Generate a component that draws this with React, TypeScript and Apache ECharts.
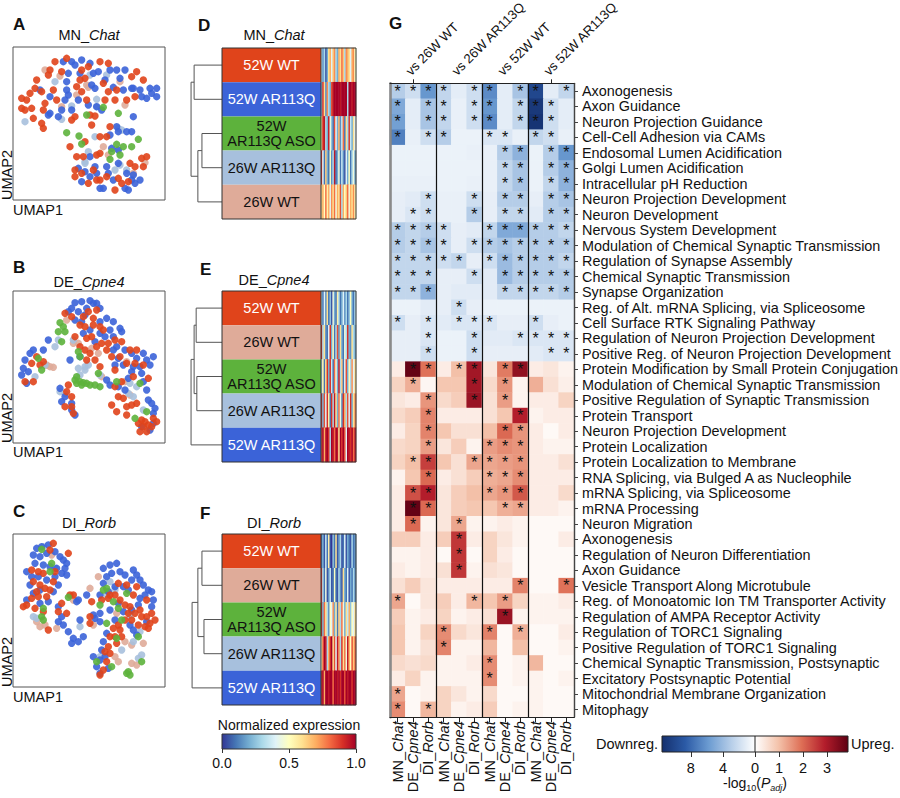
import React, { useEffect, useRef } from "react";
import * as echarts from "echarts";

const FONT = '"Liberation Sans", Arial, Helvetica, sans-serif';
const INK = "#111111";

// ---------------- groups ----------------
const groupNames = ["52W WT", "52W AR113Q", "52W AR113Q ASO", "26W AR113Q", "26W WT"];
const groupColors = ["#e0441b", "#3b63d8", "#5db23c", "#a7c0dd", "#dfab99"];
const groupTextColors = ["#ffffff", "#ffffff", INK, INK, INK];

// ---------------- UMAP points (UMAP1, UMAP2 in picture units, UMAP2 grows downward) ----------------
const umapA_52WT = [[165,185],[200,175],[150,210],[185,215],[245,210],[255,235],[300,185],[110,240],[105,265],[125,275],[65,295],[80,300],[75,330],[95,325],[65,325],[100,355],[125,370],[130,385],[160,270],[170,300],[135,310],[215,360],[225,350],[240,240],[245,275],[270,345],[285,348],[275,375],[315,300],[325,275],[350,270],[380,300],[410,215],[430,240],[405,290],[330,380],[320,410],[290,465],[300,460],[225,510],[245,520],[265,550],[225,530],[300,540],[320,530],[345,570],[355,535],[390,490],[385,545],[425,475],[430,500],[210,440],[250,470],[260,300],[310,250],[365,550],[290,540],[130,330],[90,280],[145,225],[230,260],[265,200],[325,190],[395,230],[300,410],[345,300],[255,425],[230,470],[440,470],[405,500],[280,510]];
const umapA_52AR = [[190,185],[215,185],[245,180],[270,190],[205,220],[240,220],[200,245],[200,270],[205,285],[195,300],[185,330],[150,340],[145,345],[120,270],[150,290],[280,220],[295,215],[330,210],[350,210],[375,210],[275,255],[285,265],[315,240],[340,262],[370,270],[395,265],[400,265],[425,290],[440,295],[450,265],[470,265],[470,290],[265,315],[290,320],[305,330],[350,380],[395,395],[400,350],[330,405],[235,505],[255,515],[245,545],[285,500],[290,520],[320,500],[325,520],[310,565],[355,490],[380,520],[395,540],[405,550],[375,565],[385,570],[420,540],[300,565],[355,450],[335,445],[270,470],[355,395],[235,300],[175,350],[225,195],[360,235],[420,270],[455,280],[380,395],[270,530],[340,540],[400,525],[215,330]];
const umapA_ASO = [[310,322],[355,340],[260,345],[200,398],[237,408],[245,432],[350,433],[370,440],[395,440],[415,418],[335,455],[330,478],[360,465]];
const umapA_26AR = [[75,365],[165,245],[215,318],[290,298],[290,320],[320,225],[355,385],[365,390],[285,410],[265,455],[255,485],[345,510],[380,510],[360,495],[185,358],[270,225],[255,490]];
const umapA_26WT = [[135,210],[180,228],[260,255],[230,285],[185,320],[265,262],[360,245],[375,315],[310,440],[325,465],[400,520],[435,488]];

const umapB_52WT = [[195,190],[215,200],[265,185],[290,180],[240,225],[255,230],[280,225],[300,230],[310,240],[260,265],[275,260],[290,290],[305,280],[240,290],[255,300],[270,310],[325,280],[345,270],[365,275],[390,300],[405,340],[430,345],[445,385],[400,380],[380,340],[365,395],[345,410],[355,440],[370,445],[335,465],[350,485],[380,495],[410,460],[415,520],[425,510],[435,515],[445,525],[420,545],[440,545],[460,505],[470,515],[110,320],[95,340],[120,345],[75,395],[100,395],[205,405],[200,425],[195,470],[215,470],[220,490],[345,360],[300,350],[260,330],[335,320],[285,330],[380,470],[395,465],[130,335],[225,260],[250,200],[280,205],[320,300],[360,320],[410,300],[430,530],[455,530],[215,440]];
const umapB_52AR = [[225,158],[245,155],[270,152],[290,160],[215,175],[205,185],[235,185],[260,175],[300,175],[225,210],[245,215],[300,215],[320,205],[340,215],[360,235],[365,245],[340,260],[270,240],[250,250],[300,250],[315,260],[285,275],[350,290],[340,300],[375,300],[395,310],[410,325],[430,310],[440,330],[460,320],[450,345],[425,370],[395,365],[370,345],[345,345],[330,405],[355,410],[375,420],[430,395],[440,420],[445,450],[455,460],[465,475],[450,540],[425,530],[460,520],[100,300],[90,310],[75,330],[70,355],[65,375],[80,400],[145,270],[195,440],[180,415],[215,460],[225,495],[210,330],[240,320],[185,455],[215,480],[130,300],[355,325],[385,385],[420,350],[320,390],[280,160],[255,195],[330,240],[400,350],[460,490],[85,365]];
const umapB_ASO = [[180,218],[190,230],[175,245],[195,245],[185,275],[235,305],[240,320],[115,325],[125,360],[225,390],[240,395],[250,398],[230,400],[245,405],[260,400],[270,405],[300,410],[285,405],[295,370],[350,395],[420,400],[440,485],[405,505],[230,380]];
const umapB_26AR = [[175,270],[220,270],[165,290],[235,355],[255,350],[265,345],[255,360],[240,375],[300,375],[180,425],[195,430],[385,430],[400,440],[430,480],[410,410],[105,380],[135,345],[390,400]];
const umapB_26WT = [[200,210],[220,280],[235,280],[140,345],[150,350],[160,352],[135,345],[275,295],[295,310],[380,335],[375,395],[390,435],[305,380]];

const umapC_52WT = [[160,100],[150,120],[205,130],[95,180],[115,185],[130,190],[165,185],[100,215],[120,225],[135,235],[150,240],[115,260],[140,260],[95,265],[70,290],[80,285],[105,295],[130,305],[185,280],[210,255],[220,255],[275,275],[270,320],[270,340],[305,270],[325,265],[330,255],[345,255],[360,270],[375,285],[390,290],[400,255],[420,300],[425,320],[440,320],[455,310],[465,330],[435,350],[445,355],[415,345],[395,330],[375,330],[355,345],[340,355],[330,380],[345,380],[365,380],[350,400],[325,410],[315,425],[330,430],[300,495],[310,480],[355,220],[380,225],[200,310],[145,360],[175,305],[440,270],[410,230],[160,215],[110,245],[385,310],[405,310],[450,340],[360,360],[320,455]];
const umapC_52AR = [[110,115],[125,110],[145,105],[100,135],[120,140],[140,130],[165,125],[180,140],[190,150],[195,175],[200,195],[105,160],[130,165],[150,170],[170,175],[185,190],[80,185],[95,200],[115,200],[140,210],[165,200],[175,225],[160,245],[100,250],[80,270],[120,280],[145,275],[175,290],[185,320],[175,335],[190,345],[205,365],[220,385],[235,395],[215,400],[250,380],[235,270],[230,275],[260,255],[300,310],[285,325],[310,175],[330,165],[350,160],[335,190],[360,185],[375,195],[400,180],[420,210],[430,225],[445,240],[455,245],[455,290],[460,270],[310,220],[300,255],[330,300],[345,330],[370,305],[395,300],[390,345],[420,265],[415,285],[320,370],[310,395],[305,420],[300,450],[315,440],[325,475],[300,490],[280,440],[290,470],[410,375],[400,360],[440,335],[370,230],[385,240],[395,210],[345,230],[325,245],[355,280],[280,315],[300,335],[240,330],[320,200],[410,195],[435,255],[90,225],[120,240],[200,160]];
const umapC_ASO = [[125,118],[155,160],[150,185],[130,295],[125,320],[130,330],[205,262],[310,240],[320,235],[340,275],[355,295],[380,250],[365,330],[350,385],[415,380],[290,455],[335,470],[380,490],[390,495],[385,485],[425,455],[300,285],[320,340]];
const umapC_26AR = [[130,110],[165,175],[100,320],[110,325],[240,350],[330,215],[320,255],[345,240],[390,315],[420,365],[400,395],[425,435],[300,440],[365,420],[415,445]];
const umapC_26WT = [[155,135],[220,270],[270,235],[295,200],[135,345],[120,350],[110,335],[170,355],[350,310],[375,395],[395,405],[395,460],[410,465],[355,455],[345,440],[430,400],[280,345]];

// ---------------- D/E/F block orders and dendrograms ----------------
const orderD = [0, 1, 2, 3, 4];
const orderE = [0, 4, 2, 3, 1];
const orderF = [0, 4, 2, 3, 1];
// merges: [height, yFrom, yTo, heightFrom, heightTo]
const dendroD = [[0.82, 0, 1, 0, 0], [0.59, 2, 3, 0, 0], [0.71, 2.5, 4, 0.59, 0], [0.91, 0.5, 3.25, 0.82, 0.71]];
const dendroE = [[0.76, 0, 1, 0, 0], [0.74, 2, 3, 0, 0], [0.82, 0.5, 2.5, 0.76, 0.74], [0.91, 1.5, 4, 0.82, 0]];
const dendroF = [[0.59, 0, 1, 0, 0], [0.53, 2, 3, 0, 0], [0.71, 0.5, 2.5, 0.59, 0.53], [0.88, 1.5, 4, 0.71, 0]];

// normalized expression strips (rows in block order)
const stripD = [
  [0.35,0.15,0.3,0.05,0.2,0.6,0.7,0.4,0.65,0.75,0.3,0.2,0.7,0.6,0.8,0.65,0.3,0.75,0.7,0.6,0.4,0.7,0.75,0.5],
  [0.25,0.9,0.6,0.15,0.75,0.3,0.2,0.85,0.95,1,1,1,1,0.95,1,1,1,1,0.3,1,1,0.95,1,1],
  [0.55,0.9,0.95,0.3,0.2,0.95,0.45,0.25,0.1,0.85,0.4,0.2,0.7,0.15,0.35,0.8,0.1,0.6,0.3,0.9,0.35,0.2,0.6,0.4],
  [0.9,0.4,0.1,0.65,0.2,0.1,0.5,0.15,0.3,0.95,0.1,0.2,0.45,0.1,0.35,0.15,0.05,0.4,0.2,0.5,0.1,0.3,0.45,0.2],
  [0.6,0.7,0.5,0.8,0.55,0.7,0.4,0.75,0.6,0.8,0.45,0.7,0.6,0.85,0.3,0.7,0.5,0.65,0.8,0.45,0.7,0.6,0.75,0.55],
];
const stripE = [
  [0.3,0.1,0.4,0.15,0.6,0.1,0.25,0.05,0.45,0.2,0.1,0.55,0.3,0.1,0.2,0.4,0.15,0.3,0.1,0.25,0.5,0.2,0.1,0.3],
  [0.9,0.3,0.6,0.15,0.1,0.4,0.9,0.2,0.5,0.1,0.3,0.85,0.15,0.6,0.2,0.1,0.45,0.3,0.9,0.2,0.15,0.6,0.3,0.2],
  [0.3,0.55,0.1,0.6,0.9,0.2,0.9,0.35,0.1,0.8,0.45,0.2,0.95,0.3,0.65,0.1,0.4,0.85,0.2,0.5,0.3,0.75,0.4,0.6],
  [0.9,0.2,0.85,0.4,0.9,0.55,0.1,0.9,0.3,0.95,0.6,0.2,0.8,0.45,0.15,0.9,0.7,0.3,0.85,0.4,0.9,0.2,0.6,0.75],
  [0.85,1,0.7,0.95,1,0.9,0.3,1,0.95,0.8,1,0.95,0.6,1,0.9,1,0.85,0.4,1,0.95,0.9,1,0.8,0.95],
];
const stripF = [
  [0.1,0.2,0.05,0.35,0.1,0.55,0.05,0,0.25,0.1,0.6,0.05,0.15,0.3,0.05,0.1,0.4,0.05,0.2,0.1,0.05,0.3,0.1,0.15],
  [0.9,0.3,0.1,0.45,0.05,0.15,0.35,0.05,0.1,0.5,0.1,0.05,0.3,0.15,0.05,0.6,0.2,0.1,0.4,0.05,0.2,0.1,0.3,0.15],
  [0.9,0.2,0.8,0.6,0.3,0.15,0.5,0.4,0.75,0.2,0.55,0.1,0.65,0.3,0.8,0.45,0.2,0.6,0.35,0.7,0.25,0.5,0.4,0.6],
  [0.5,0.8,1,0.95,0.3,0.7,0.9,1,0.6,0.85,0.4,0.95,0.75,0.3,0.9,0.6,0.8,0.45,0.95,0.7,0.5,0.85,0.65,0.8],
  [0.9,1,0.7,1,1,0.95,1,1,0.8,1,1,0.95,1,0.9,1,1,0.85,1,0.95,1,1,0.9,1,1],
];
const normTicks = [0, 0.5, 1];

// ---------------- G heatmap ----------------
const cellTypes = [["MN_", "Chat"], ["DE_", "Cpne4"], ["DI_", "Rorb"]];
const comparisons = ["vs 26W WT", "vs 26W AR113Q", "vs 52W WT", "vs 52W AR113Q"];
const downPathways = [
  "Axonogenesis", "Axon Guidance", "Neuron Projection Guidance", "Cell-Cell Adhesion via CAMs",
  "Endosomal Lumen Acidification", "Golgi Lumen Acidification", "Intracellular pH Reduction",
  "Neuron Projection Development", "Neuron Development", "Nervous System Development",
  "Modulation of Chemical Synaptic Transmission", "Regulation of Synapse Assembly",
  "Chemical Synaptic Transmission", "Synapse Organization", "Reg. of Alt. mRNA Splicing, via Spliceosome",
  "Cell Surface RTK Signaling Pathway", "Regulation of Neuron Projection Development",
  "Positive Reg. of Neuron Projection Development",
];
const upPathways = [
  "Protein Modification by Small Protein Conjugation", "Modulation of Chemical Synaptic Transmission",
  "Positive Regulation of Synaptic Transmission", "Protein Transport", "Neuron Projection Development",
  "Protein Localization", "Protein Localization to Membrane", "RNA Splicing, via Bulged A as Nucleophile",
  "mRNA Splicing, via Spliceosome", "mRNA Processing", "Neuron Migration", "Axonogenesis",
  "Regulation of Neuron Differentiation", "Axon Guidance", "Vesicle Transport Along Microtubule",
  "Reg. of Monoatomic Ion TM Transporter Activity", "Regulation of AMPA Receptor Activity",
  "Regulation of TORC1 Signaling", "Positive Regulation of TORC1 Signaling",
  "Chemical Synaptic Transmission, Postsynaptic", "Excitatory Postsynaptic Potential",
  "Mitochondrial Membrane Organization", "Mitophagy",
];
// -log10(Padj), downregulated pathways
const downLog = [
  [3, 2, 6, 2.5, 1.1, 2, 6.5, 1.1, 3.5, 10, 1.1, 2.5],
  [5, 1.1, 3.5, 2.5, 0.9, 2, 6, 1.1, 2.5, 11, 2, 1.1],
  [5.5, 1.1, 3.5, 2.5, 0.9, 2, 6.5, 1.1, 2.5, 11.3, 2, 1.1],
  [7, 0.9, 2, 3, 0.8, 0.8, 1.5, 1.5, 0.9, 2.5, 2, 0.9],
  [0.8, 0.8, 0.8, 0.8, 0.8, 0.9, 0.9, 3, 4.5, 0.8, 3, 6],
  [0.8, 0.8, 0.8, 0.8, 0.8, 0.8, 0.9, 2.5, 3.5, 0.8, 3, 4.5],
  [0.9, 0.9, 0.9, 0.8, 0.8, 0.9, 0.9, 2.5, 3.5, 0.8, 2.5, 4.5],
  [1.0, 1.2, 2, 0.9, 0.9, 2, 1.0, 3, 3, 1.0, 3, 3.5],
  [1.0, 1.5, 2, 0.9, 0.9, 3, 1.0, 2.5, 2.5, 1.2, 3, 3],
  [3, 2.5, 3, 2, 1.0, 1.2, 2.5, 5, 5, 3, 3, 2.5],
  [3, 2.5, 3.5, 2, 1.0, 2, 3, 3.5, 3, 3, 3, 3],
  [2.5, 2.5, 2.5, 2, 2.5, 1.0, 2, 4, 3, 3, 3, 2.5],
  [2.5, 2.5, 2.5, 1.0, 1.0, 2, 1.2, 4, 3, 3, 3, 3],
  [2.5, 2.5, 4.5, 1.0, 1.2, 1.2, 1.2, 2.5, 2.5, 2.5, 2.5, 3],
  [0.8, 0.8, 1.2, 1.0, 2, 1.0, 0.8, 0.8, 0.8, 0.8, 0.8, 0.8],
  [2, 1.0, 1.5, 1.2, 1.5, 1.5, 1.5, 1.0, 1.0, 2, 1.0, 0.8],
  [1.0, 1.0, 1.5, 0.8, 0.8, 2, 1.2, 1.2, 1.5, 1.5, 1.5, 1.5],
  [1.0, 1.0, 2, 0.8, 0.8, 2, 1.0, 1.0, 1.0, 1.2, 1.5, 1.5],
];
const downStars = [
  "111101101101", "101101101110", "101101101110", "101100110110", "000000011011", "000000011011",
  "000000011011", "001001011011", "011001011011", "111100111111", "111101111111", "111110111111",
  "111001011111", "111000011111", "000010000000", "101011100100", "001001001111", "001001000011",
];
// -log10(Padj), upregulated pathways
const upLog = [
  [0.3, 3.8, 1.9, 0.3, 1.0, 3.1, 0.4, 1.8, 3.3, 0.3, 0.4, 0.2],
  [0.7, 1.2, 0.15, 0.9, 0.9, 3.1, 0.6, 1.5, 0.2, 1.2, 0.5, 0.25],
  [0.4, 0.3, 1.5, 0.6, 0.8, 3.2, 0.5, 1.4, 0.2, 0.3, 0.3, 0.7],
  [0.6, 0.8, 1.7, 0.3, 0.3, 0.3, 0.5, 0.9, 2.9, 0.2, 0.3, 0.3],
  [0.3, 0.7, 1.7, 0.9, 0.5, 0.5, 1.0, 2.0, 1.5, 0.3, 0.1, 0.3],
  [0.6, 0.7, 1.4, 0.4, 0.8, 0.2, 1.4, 1.6, 1.5, 0.3, 0.2, 0.2],
  [0.7, 1.0, 2.5, 0.9, 0.5, 1.3, 1.3, 1.4, 1.5, 0.3, 0.3, 0.5],
  [0.2, 0.9, 2.0, 0.3, 0.5, 0.8, 1.2, 1.3, 1.6, 0.3, 0.3, 0.3],
  [0.3, 2.3, 2.9, 0.4, 0.8, 1.0, 1.3, 1.5, 2.2, 0.3, 0.3, 0.6],
  [0.3, 3.8, 2.0, 0.4, 0.8, 0.9, 0.9, 1.2, 1.3, 0.3, 0.3, 0.2],
  [0.3, 2.0, 0.2, 0.4, 1.3, 0.2, 0.2, 0.3, 0.2, 0.1, 0.1, 0.1],
  [0.8, 0.8, 0.3, 0.8, 2.6, 0.3, 0.7, 0.4, 0.2, 0.1, 0.1, 0.3],
  [0.2, 0.2, 0.3, 0.1, 2.6, 0.1, 0.7, 0.3, 0.1, 0.1, 0.1, 0.1],
  [0.3, 0.2, 0.3, 0.5, 2.6, 0.2, 0.5, 0.4, 0.1, 0.1, 0.1, 0.1],
  [0.5, 0.8, 0.4, 0.3, 0.3, 0.3, 0.3, 0.3, 1.7, 0.1, 0.1, 1.9],
  [1.3, 0.1, 0.4, 0.8, 0.3, 1.1, 0.9, 1.4, 0.7, 0.2, 0.2, 0.3],
  [0.8, 0.2, 0.3, 0.7, 0.2, 0.3, 0.5, 3.2, 0.2, 0.2, 0.2, 0.2],
  [0.9, 0.2, 0.7, 1.6, 0.6, 0.4, 1.7, 0.1, 1.2, 0.1, 0.1, 0.3],
  [0.9, 0.2, 0.5, 1.7, 0.2, 0.2, 1.1, 0.1, 1.0, 0.1, 0.1, 0.2],
  [0.6, 0.5, 0.6, 0.2, 0.2, 0.3, 1.6, 0.1, 0.2, 1.1, 0.1, 0.1],
  [0.3, 0.7, 0.2, 0.2, 0.2, 0.2, 1.6, 0.1, 0.2, 0.2, 0.1, 0.2],
  [1.3, 0.1, 0.2, 0.7, 0.4, 0.2, 0.6, 0.1, 0.1, 0.2, 0.1, 0.1],
  [1.6, 0.1, 1.1, 0.7, 0.2, 0.3, 0.8, 0.1, 0.2, 0.2, 0.1, 0.1],
];
const upStars = [
  "011011011000", "010001010000", "001001010000", "001000001000", "001000011000", "001000111000",
  "011001111000", "001000111000", "011000111000", "011000011000", "010010000000", "000010000000",
  "000010000000", "000010000000", "000000001001", "100001010000", "000000010000", "000100101000",
  "000100000000", "000000100000", "000000100000", "100000000000", "101000000000",
];
const DOWN_MAX = 11.6;
const UP_MAX = 3.87;
const downTicks = [0, 4, 8];
const upTicks = [0, 1, 2, 3];

const RDYLBU_R = ["#313695", "#4575b4", "#74add1", "#abd9e9", "#e0f3f8", "#ffffbf", "#fee090", "#fdae61", "#f46d43", "#d73027", "#a50026"];
const DIVERGE = ["#15306e", "#2b5aa6", "#6b9bd1", "#b8cfe9", "#ffffff", "#f4c3ab", "#de6f56", "#b31d2b", "#5f0013"];

function App() {
  const ref = useRef<HTMLDivElement>(null);
  useEffect(() => {
    const chart = echarts.init(ref.current as HTMLDivElement, undefined, { renderer: "svg" });

    const grids: any[] = [];
    const xAxes: any[] = [];
    const yAxes: any[] = [];
    const series: any[] = [];
    const graphics: any[] = [];
    const noAxis = { show: false };

    const txt = (text: string, x: number, y: number, st: any = {}, rotation = 0) => ({
      type: "text", x, y, rotation, z: 50, silent: true,
      style: { text, fontSize: 14, fontFamily: FONT, fill: INK, align: "center", verticalAlign: "middle", ...st },
    });
    const geneRich = {
      a: { fontSize: 14.5, fontFamily: FONT, fill: INK },
      i: { fontSize: 14.5, fontFamily: FONT, fill: INK, fontStyle: "italic" },
    };

    // ---------- UMAP panels ----------
    const umaps = [
      { groups: [umapA_52WT, umapA_52AR, umapA_ASO, umapA_26AR, umapA_26WT], top: 47, h: 153, ymin: 141, ymax: 600, title: ["MN_", "Chat"], ty: 35, u1: 210 },
      { groups: [umapB_52WT, umapB_52AR, umapB_ASO, umapB_26AR, umapB_26WT], top: 291, h: 152, ymin: 123, ymax: 579, title: ["DE_", "Cpne4"], ty: 282, u1: 452 },
      { groups: [umapC_52WT, umapC_52AR, umapC_ASO, umapC_26AR, umapC_26WT], top: 534, h: 153, ymin: 72, ymax: 531, title: ["DI_", "Rorb"], ty: 523, u1: 697 },
    ];
    umaps.forEach((u, i) => {
      grids.push({ left: 13, top: u.top, width: 152, height: u.h, show: true, borderColor: "#555", borderWidth: 1, backgroundColor: "transparent", outerBoundsMode: "none" });
      xAxes.push({ gridIndex: i, type: "value", min: 39, max: 495, ...noAxis });
      yAxes.push({ gridIndex: i, type: "value", min: u.ymin, max: u.ymax, inverse: true, ...noAxis });
      [4, 3, 1, 0, 2].forEach((g) => {
        series.push({
          type: "scatter", xAxisIndex: i, yAxisIndex: i, data: u.groups[g], symbolSize: 7.4, silent: true,
          itemStyle: { color: groupColors[g], opacity: 0.9 },
        });
      });
      graphics.push(txt(`{a|${u.title[0]}}{i|${u.title[1]}}`, 89, u.ty, { rich: geneRich }));
      graphics.push(txt("UMAP1", 13, u.u1, { align: "left", fontSize: 14.5 }));
      graphics.push(txt("UMAP2", 7, u.top + u.h, { align: "left", verticalAlign: "middle", fontSize: 14.5, lineHeight: 13 }, Math.PI / 2));
    });

    // ---------- D / E / F ----------
    const blockPanels = [
      { order: orderD, dendro: dendroD, strip: stripD, top: 48, title: ["MN_", "Chat"], ty: 35 },
      { order: orderE, dendro: dendroE, strip: stripE, top: 291, title: ["DE_", "Cpne4"], ty: 280 },
      { order: orderF, dendro: dendroF, strip: stripF, top: 534, title: ["DI_", "Rorb"], ty: 523 },
    ];
    const stripSeries: number[] = [];
    blockPanels.forEach((p) => {
      const b = grids.length;
      const H = 171;
      grids.push({ left: 188, top: p.top, width: 34, height: H, outerBoundsMode: "none" });
      grids.push({ left: 222, top: p.top, width: 99, height: H, outerBoundsMode: "none" });
      grids.push({ left: 321, top: p.top, width: 35, height: H, outerBoundsMode: "none" });
      xAxes.push({ gridIndex: b, type: "value", min: 0, max: 1, inverse: true, ...noAxis });
      yAxes.push({ gridIndex: b, type: "value", min: -0.5, max: 4.5, inverse: true, ...noAxis });
      xAxes.push({ gridIndex: b + 1, type: "value", min: 0, max: 1, ...noAxis });
      yAxes.push({ gridIndex: b + 1, type: "category", data: p.order.map((g) => groupNames[g]), inverse: true, ...noAxis });
      xAxes.push({ gridIndex: b + 2, type: "category", data: p.strip[0].map((_, i) => String(i)), ...noAxis });
      yAxes.push({ gridIndex: b + 2, type: "category", data: p.order.map((g) => groupNames[g]), inverse: true, ...noAxis });

      series.push({
        type: "custom", xAxisIndex: b, yAxisIndex: b, data: p.dendro, silent: true,
        renderItem: (_params: any, api: any) => {
          const h = api.value(0), y1 = api.value(1), y2 = api.value(2), h1 = api.value(3), h2 = api.value(4);
          return {
            type: "polyline",
            shape: { points: [api.coord([h1, y1]), api.coord([h, y1]), api.coord([h, y2]), api.coord([h2, y2])] },
            style: { stroke: "#555", lineWidth: 1, fill: null },
          };
        },
      });
      series.push({
        type: "bar", xAxisIndex: b + 1, yAxisIndex: b + 1, barCategoryGap: "0%", silent: true,
        data: p.order.map((g) => ({ value: 1, itemStyle: { color: groupColors[g] }, label: { color: groupTextColors[g] } })),
        label: {
          show: true, position: "inside", fontSize: 14.5, fontFamily: FONT, lineHeight: 15,
          formatter: (prm: any) => (prm.name === "52W AR113Q ASO" ? "52W\nAR113Q ASO" : prm.name),
        },
      });
      const data: any[] = [];
      p.strip.forEach((row, r) => row.forEach((v, c) => data.push([c, r, v])));
      stripSeries.push(series.length);
      series.push({ type: "heatmap", xAxisIndex: b + 2, yAxisIndex: b + 2, data, silent: true, itemStyle: { borderWidth: 0 } });

      graphics.push({ type: "rect", z: 60, silent: true, shape: { x: 222, y: p.top, width: 134, height: H }, style: { fill: null, stroke: "#333", lineWidth: 1 } });
      graphics.push({ type: "line", z: 60, silent: true, shape: { x1: 321, y1: p.top, x2: 321, y2: p.top + H }, style: { stroke: "#333", lineWidth: 1 } });
      graphics.push(txt(`{a|${p.title[0]}}{i|${p.title[1]}}`, 274, p.ty, { rich: geneRich }));
    });

    // ---------- normalized expression colorbar ----------
    const nb = grids.length;
    grids.push({ left: 222, top: 734, width: 134, height: 15, outerBoundsMode: "none" });
    xAxes.push({
      gridIndex: nb, type: "value", min: 0, max: 1, interval: 0.5,
      axisLine: { show: false }, splitLine: { show: false },
      axisTick: { show: true, length: 4, lineStyle: { color: "#333" }, customValues: normTicks },
      axisLabel: { fontSize: 14, color: INK, fontFamily: FONT, margin: 7, formatter: (v: number) => v.toFixed(1), customValues: normTicks },
    });
    yAxes.push({ gridIndex: nb, type: "value", min: 0, max: 1, ...noAxis });
    graphics.push({
      type: "rect", z: 40, silent: true, shape: { x: 222, y: 734, width: 134, height: 15 },
      style: {
        stroke: "#333", lineWidth: 1,
        fill: { type: "linear", x: 0, y: 0, x2: 1, y2: 0, colorStops: RDYLBU_R.map((c, i) => ({ offset: i / (RDYLBU_R.length - 1), color: c })) },
      },
    });
    graphics.push(txt("Normalized expression", 289, 725, { fontSize: 14 }));

    // ---------- G heatmap ----------
    const gi = grids.length;
    grids.push({ left: 390, top: 83.3, width: 184, height: 634, outerBoundsMode: "none" });
    const allPathways = [...downPathways, ...upPathways];
    xAxes.push({
      gridIndex: gi, type: "category", position: "bottom", z: 10,
      data: Array.from({ length: 12 }, (_, i) => String(i)),
      axisLine: { show: true, lineStyle: { color: "#222", width: 1.2 } },
      axisTick: { show: true, alignWithLabel: true, length: 5, lineStyle: { color: "#222" } },
      axisLabel: {
        rotate: 90, interval: 0, margin: 4,
        formatter: (_v: string, i: number) => `{a|${cellTypes[i % 3][0]}}{i|${cellTypes[i % 3][1]}}`,
        rich: { a: { fontSize: 14.5, fontFamily: FONT, color: INK, lineHeight: 13 }, i: { fontSize: 14.5, fontFamily: FONT, color: INK, fontStyle: "italic", lineHeight: 13 } },
      },
      splitLine: { show: false },
    });
    yAxes.push({
      gridIndex: gi, type: "category", position: "right", inverse: true, z: 10,
      data: allPathways.map((_, i) => String(i)),
      axisLine: { show: true, lineStyle: { color: "#444", width: 1.2 } },
      axisTick: { show: true, alignWithLabel: true, length: 4, lineStyle: { color: "#444" } },
      axisLabel: { interval: 0, fontSize: 14.4, lineHeight: 14, color: INK, fontFamily: FONT, margin: 8, formatter: (_v: string, i: number) => allPathways[i] },
      splitLine: { show: false },
    });

    // G colorbar grids
    const cl = grids.length;
    grids.push({ left: 662, top: 736, width: 93, height: 16, outerBoundsMode: "none" });
    grids.push({ left: 755, top: 736, width: 93, height: 16, outerBoundsMode: "none" });
    const cbTick = { show: true, length: 5, lineStyle: { color: "#333" } };
    xAxes.push({
      type: "value", gridIndex: cl, min: 0, max: DOWN_MAX, inverse: true, interval: 4,
      axisLine: { show: false }, splitLine: { show: false },
      axisTick: { ...cbTick, customValues: downTicks },
      axisLabel: { fontSize: 14.5, color: INK, fontFamily: FONT, margin: 8, customValues: downTicks },
    });
    xAxes.push({
      type: "value", gridIndex: cl + 1, min: 0, max: UP_MAX, interval: 1,
      axisLine: { show: false }, splitLine: { show: false },
      axisTick: { ...cbTick, customValues: upTicks },
      axisLabel: { fontSize: 14.5, color: INK, fontFamily: FONT, margin: 8, customValues: upTicks, formatter: (v: number) => (v === 0 ? "" : String(v)) },
    });
    yAxes.push({ gridIndex: cl, type: "value", min: 0, max: 1, ...noAxis });
    yAxes.push({ gridIndex: cl + 1, type: "value", min: 0, max: 1, ...noAxis });

    // extra axes on G grid: top comparisons (ticks + separators) + grey left line
    xAxes.push({
      gridIndex: gi, type: "category", position: "top", z: 10, data: comparisons,
      axisLine: { show: true, lineStyle: { color: "#222", width: 1 } },
      axisTick: { show: true, alignWithLabel: true, length: 4, lineStyle: { color: "#222" } },
      axisLabel: { show: false },
      splitLine: { show: true, interval: 0, lineStyle: { color: "#111", width: 1.2 } },
    });
    yAxes.push({
      gridIndex: gi, type: "category", position: "left", inverse: true, z: 10,
      data: allPathways.map((_, i) => String(i)),
      axisLine: { show: true, lineStyle: { color: "#8a8a8a", width: 2.5 } },
      axisTick: { show: false }, axisLabel: { show: false }, splitLine: { show: false },
    });
    // rotated comparison labels above the column groups
    const groupW = 184 / comparisons.length;
    comparisons.forEach((c, k) => {
      graphics.push(txt(c, 390 + groupW * (k + 0.5) - 5, 73, { align: "left", fontSize: 13.2, lineHeight: 12 }, Math.PI / 4));
    });

    const gData: any[] = [];
    downLog.forEach((row, r) =>
      row.forEach((v, c) => gData.push([c, r, -v, Math.max(-1, -v / DOWN_MAX), downStars[r][c] === "1" ? 1 : 0]))
    );
    upLog.forEach((row, r) =>
      row.forEach((v, c) => gData.push([c, r + downLog.length, v, Math.min(1, v / UP_MAX), upStars[r][c] === "1" ? 1 : 0]))
    );
    const gSeries = series.length;
    series.push({
      type: "heatmap", xAxisIndex: gi, yAxisIndex: gi, data: gData, silent: true,
      itemStyle: { borderWidth: 0 },
      label: {
        show: true, fontSize: 16, lineHeight: 10, color: "#111", fontFamily: FONT, offset: [0, 4],
        formatter: (prm: any) => (prm.value[4] ? "*" : ""),
      },
      labelLayout: { hideOverlap: false },
      emphasis: { disabled: true },
    });

    graphics.push({
      type: "rect", z: 40, silent: true, shape: { x: 662, y: 736, width: 186, height: 16 },
      style: {
        stroke: "#222", lineWidth: 1,
        fill: { type: "linear", x: 0, y: 0, x2: 1, y2: 0, colorStops: DIVERGE.map((c, i) => ({ offset: i / (DIVERGE.length - 1), color: c })) },
      },
    });
    graphics.push({ type: "line", z: 41, silent: true, shape: { x1: 755, y1: 736, x2: 755, y2: 752 }, style: { stroke: "#222", lineWidth: 1 } });
    graphics.push(txt("Downreg.", 658, 744, { align: "right", fontSize: 14.5 }));
    graphics.push(txt("Upreg.", 851, 744, { align: "left", fontSize: 14.5 }));
    graphics.push(
      txt("{a|-log}{s|10}{a|(}{i|P}{si|adj}{a|)}", 755, 783, {
        rich: {
          a: { fontSize: 14, fontFamily: FONT, fill: INK, lineHeight: 18 },
          i: { fontSize: 14, fontFamily: FONT, fill: INK, lineHeight: 18, fontStyle: "italic" },
          s: { fontSize: 9, fontFamily: FONT, fill: INK, lineHeight: 9, verticalAlign: "bottom" },
          si: { fontSize: 9, fontFamily: FONT, fill: INK, lineHeight: 9, verticalAlign: "bottom", fontStyle: "italic" },
        },
      })
    );

    // panel letters
    [["A", 13, 24], ["B", 13, 267], ["C", 13, 511], ["D", 198, 25], ["E", 200, 269], ["F", 200, 513], ["G", 389, 23]].forEach(
      ([l, x, y]) => graphics.push(txt(l as string, x as number, y as number, { align: "left", fontSize: 17, fontWeight: "bold" }))
    );

    chart.setOption({
      animation: false,
      backgroundColor: "#ffffff",
      textStyle: { fontFamily: FONT },
      grid: grids,
      xAxis: xAxes,
      yAxis: yAxes,
      visualMap: [
        { type: "continuous", show: false, seriesIndex: gSeries, dimension: 3, min: -1, max: 1, inRange: { color: DIVERGE } },
        { type: "continuous", show: false, seriesIndex: stripSeries, dimension: 2, min: 0, max: 1, inRange: { color: RDYLBU_R } },
      ],
      series,
      graphic: { elements: graphics },
    });
    return () => chart.dispose();
  }, []);
  return <div ref={ref} style={{ position: "fixed", left: 0, top: 0, width: 900, height: 798 }} />;
}

export default App;
